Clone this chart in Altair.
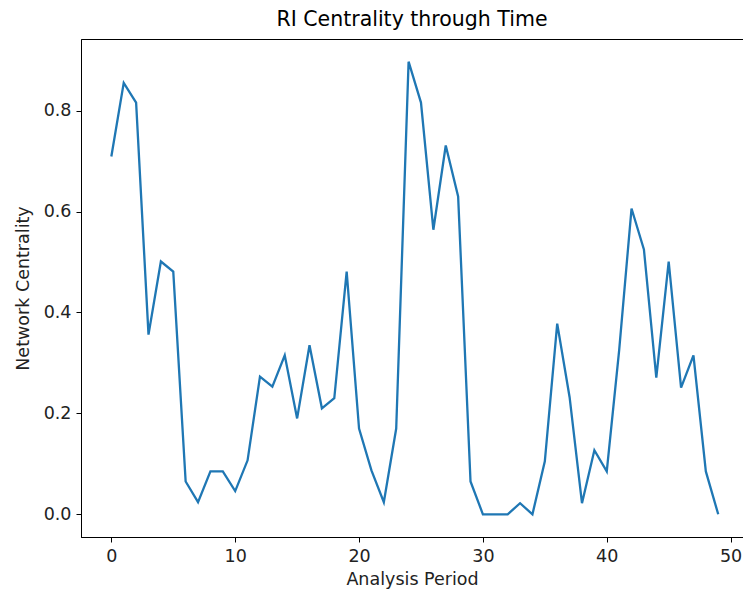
import altair as alt
import pandas as pd

periods = list(range(50))
centrality = [0.709, 0.855, 0.816, 0.356, 0.501, 0.481, 0.065, 0.024, 0.085, 0.085,
              0.046, 0.107, 0.273, 0.253, 0.315, 0.190, 0.335, 0.210, 0.230, 0.481,
              0.170, 0.087, 0.024, 0.170, 0.897, 0.816, 0.564, 0.731, 0.630, 0.065,
              0.0, 0.0, 0.0, 0.022, 0.0, 0.105, 0.378, 0.232, 0.022, 0.127,
              0.085, 0.325, 0.606, 0.525, 0.271, 0.501, 0.251, 0.315, 0.085, 0.0]

df = pd.DataFrame({"period": periods, "centrality": centrality})

chart = alt.Chart(df).mark_line(color="#1f77b4", strokeWidth=2.3, clip=True).encode(
    x=alt.X("period:Q",
            scale=alt.Scale(domain=[-2.45, 51.0], nice=False, zero=False),
            axis=alt.Axis(title="Analysis Period", values=[0, 10, 20, 30, 40, 50],
                          format="d", grid=False)),
    y=alt.Y("centrality:Q",
            scale=alt.Scale(domain=[-0.045, 0.942], nice=False, zero=False),
            axis=alt.Axis(title="Network Centrality", values=[0, 0.2, 0.4, 0.6, 0.8],
                          format=".1f", grid=False)),
).properties(
    width=662, height=498,
    title=alt.TitleParams("RI Centrality through Time", fontSize=20.5, fontWeight="normal",
                          font="DejaVu Sans", color="black", offset=9),
    autosize=alt.AutoSizeParams(type="none"),
    padding={"left": 81, "top": 39, "right": 0, "bottom": 57},
).configure_view(
    stroke="black", strokeWidth=1
).configure_axis(
    domainColor="black", tickColor="black", tickSize=5, labelFont="DejaVu Sans",
    labelFontSize=17.5, labelColor="#222222", titleFont="DejaVu Sans", titleFontSize=17.5,
    titleFontWeight="normal", titleColor="#222222", labelPadding=5
).configure_axisY(
    titlePadding=11
).configure_axisX(
    titlePadding=6
)

chart.save("out.html", embed_options={"renderer": "svg", "actions": False})
